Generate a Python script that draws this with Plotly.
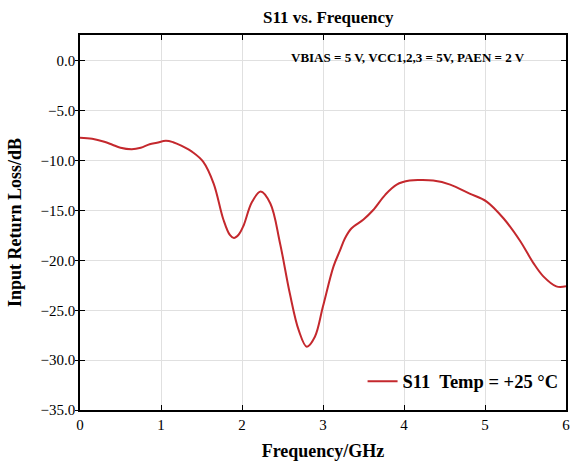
import plotly.graph_objects as go

freq_ghz = [0.0, 0.15, 0.3, 0.4, 0.5, 0.64, 0.75, 0.86, 0.95, 1.06, 1.15, 1.25, 1.4, 1.52,
            1.65, 1.77, 1.85, 1.9, 1.96, 2.02, 2.12, 2.23, 2.35, 2.47, 2.59, 2.7, 2.8,
            2.9, 3.0, 3.13, 3.21, 3.27, 3.35, 3.5, 3.62, 3.77, 3.91, 4.07, 4.2, 4.36,
            4.57, 4.81, 5.02, 5.23, 5.43, 5.6, 5.72, 5.88, 6.0]
s11_db = [-7.7, -7.8, -8.1, -8.4, -8.7, -8.85, -8.7, -8.35, -8.2, -8.0, -8.15, -8.5,
          -9.2, -10.1, -12.3, -15.9, -17.45, -17.75, -17.4, -16.5, -14.2, -13.1, -14.3,
          -18.3, -23.3, -27.0, -28.65, -27.65, -24.6, -20.6, -19.0, -17.8, -16.8, -15.9,
          -14.95, -13.4, -12.4, -12.0, -11.95, -12.0, -12.4, -13.3, -14.1, -15.8, -18.0,
          -20.3, -21.6, -22.6, -22.6]

x_ticks = [0, 1, 2, 3, 4, 5, 6]
y_ticks = [0, -5, -10, -15, -20, -25, -30, -35]

title_text = "S11 vs. Frequency"
x_title = "Frequency/GHz"
y_title = "Input Return Loss/dB"
legend_name = "S11  Temp = +25 \u00b0C"
note_text = "VBIAS = 5 V, VCC1,2,3 = 5V, PAEN = 2 V"

serif = "Liberation Serif, Times New Roman, serif"
y_range = [-35, 2.6]

fig = go.Figure()
fig.add_trace(go.Scatter(
    x=freq_ghz, y=s11_db, mode="lines", name=legend_name,
    line=dict(color="#C4282D", width=2, shape="spline", smoothing=1.0),
))
# invisible trace to carry the outside tick marks of the left axis
fig.add_trace(go.Scatter(x=[0], y=[-35], yaxis="y2", mode="markers",
                         marker=dict(opacity=0), showlegend=False, hoverinfo="skip"))

fig.update_layout(
    width=571, height=466,
    margin=dict(l=80, r=5, t=35, b=56, autoexpand=False),
    paper_bgcolor="white", plot_bgcolor="white",
    title=dict(text=title_text, x=0.575, xanchor="center", y=0.963, yanchor="middle",
               yref="container",
               font=dict(family=serif, size=17, color="black", weight="bold")),
    font=dict(family=serif, color="black"),
    xaxis=dict(range=[0, 6], tickvals=x_ticks, ticks="inside", ticklen=5,
               tickcolor="black", mirror="ticks", showline=True, linecolor="black",
               linewidth=1.5, showgrid=True, gridcolor="#e0e0e0", gridwidth=1,
               zeroline=False, automargin=False, tickfont=dict(family=serif, size=15),
               title=dict(text=x_title, standoff=13,
                          font=dict(family=serif, size=18, weight="bold"))),
    yaxis=dict(range=y_range, tickvals=y_ticks, tickformat=".1f", ticks="inside",
               ticklen=5, tickcolor="black", mirror="ticks", showline=True,
               linecolor="black", linewidth=1.5, showgrid=True, gridcolor="#e0e0e0",
               gridwidth=1, zeroline=False, automargin=False,
               tickfont=dict(family=serif, size=15),
               title=dict(text=y_title, standoff=14,
                          font=dict(family=serif, size=18, weight="bold"))),
    yaxis2=dict(range=y_range, tickvals=y_ticks, overlaying="y", side="left",
                ticks="outside", ticklen=4, tickcolor="black", showticklabels=False,
                showgrid=False, zeroline=False, showline=False, automargin=False),
    legend=dict(x=0.995, y=0.025, xanchor="right", yanchor="bottom",
                bgcolor="rgba(255,255,255,0)",
                font=dict(family=serif, size=18.5, color="black", weight="bold")),
    showlegend=True,
)
fig.add_annotation(text=note_text, xref="paper", yref="paper", x=0.92, y=0.939,
                   xanchor="right", yanchor="middle", showarrow=False,
                   font=dict(family=serif, size=13, color="black", weight="bold"))

fig.write_html("out.html", config={"displayModeBar": False},
               post_script="document.body.style.margin='0px';"
                           "document.body.style.overflow='hidden';")
